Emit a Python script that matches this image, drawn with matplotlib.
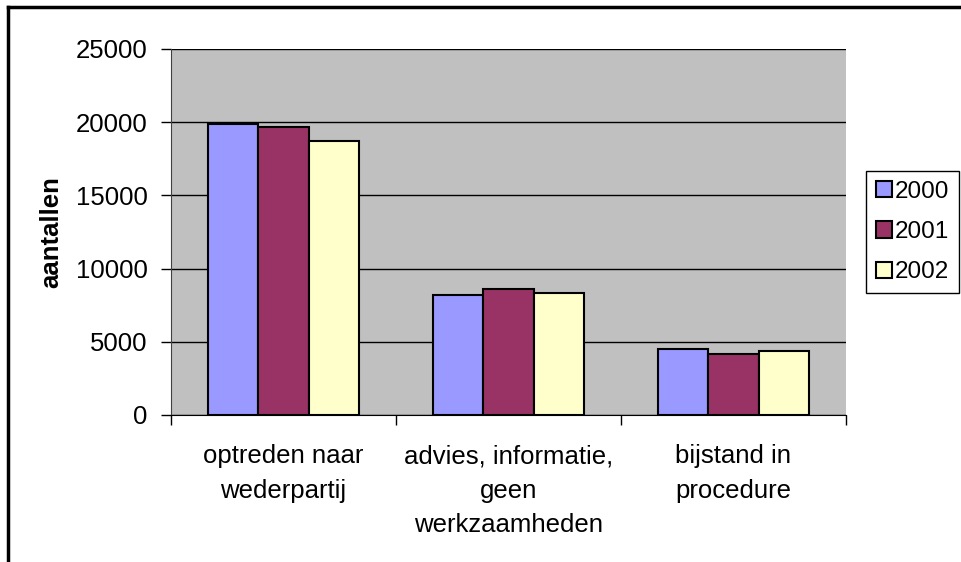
import matplotlib.pyplot as plt
import numpy as np
from matplotlib.lines import Line2D

plt.rcParams['font.family'] = ['Liberation Sans', 'DejaVu Sans']

# Data
categories = ["optreden naar\nwederpartij",
              "advies, informatie,\ngeen\nwerkzaamheden",
              "bijstand in\nprocedure"]
years = ["2000", "2001", "2002"]
v2000 = [19900, 8200, 4500]
v2001 = [19650, 8600, 4200]
v2002 = [18700, 8300, 4350]
colors = ["#9999FF", "#993366", "#FFFFCC"]

fs = 18.5

fig = plt.figure(figsize=(9.62, 5.62), dpi=100)
ax = fig.add_axes([171 / 962, 1 - 415 / 562, 675 / 962, 366 / 562])
ax.set_facecolor("#C0C0C0")

x = np.arange(len(categories))
w = 0.225
for i, (vals, yr) in enumerate(zip([v2000, v2001, v2002], years)):
    ax.bar(x + (i - 1) * w, vals, width=w, color=colors[i], edgecolor="black",
           linewidth=1.5, label=yr, zorder=3)

ax.set_xlim(-0.5, 2.5)
ax.set_ylim(0, 25000)
ax.set_yticks(np.arange(0, 25001, 5000))
ax.yaxis.grid(True, color="black", linewidth=1, zorder=0)
ax.set_axisbelow(True)

ax.set_xticks(x)
ax.set_xticklabels(categories, fontsize=fs, linespacing=1.55)
ax.set_xticks([-0.5, 0.5, 1.5, 2.5], minor=True)
ax.tick_params(axis="x", which="major", length=0, pad=21)
ax.tick_params(axis="x", which="minor", length=7, width=1, direction="out")
ax.tick_params(axis="y", length=7, width=1, labelsize=fs, pad=10)

for s in ["top", "right"]:
    ax.spines[s].set_visible(False)
ax.spines["left"].set_color("#404040")
ax.spines["bottom"].set_color("black")

ax.set_ylabel("aantallen", fontsize=fs, fontweight="bold", labelpad=9)

leg = ax.legend(loc="center left", bbox_to_anchor=(866 / 962, 1 - 232 / 562),
                bbox_transform=fig.transFigure, fontsize=17.5, frameon=True,
                fancybox=False, edgecolor="black", framealpha=1,
                handlelength=0.65, handleheight=0.65, handletextpad=0.15,
                labelspacing=0.75, borderpad=0.4, borderaxespad=0)
leg.get_frame().set_linewidth(1)

# outer chart border (only top and left edges are visible in the crop)
fig.add_artist(Line2D([8 / 962, 8 / 962], [0, 1 - 7 / 562],
                      transform=fig.transFigure, color="black", linewidth=2.5))
fig.add_artist(Line2D([8 / 962, 1], [1 - 7 / 562, 1 - 7 / 562],
                      transform=fig.transFigure, color="black", linewidth=2.5))

plt.savefig("out.png", dpi=100)
